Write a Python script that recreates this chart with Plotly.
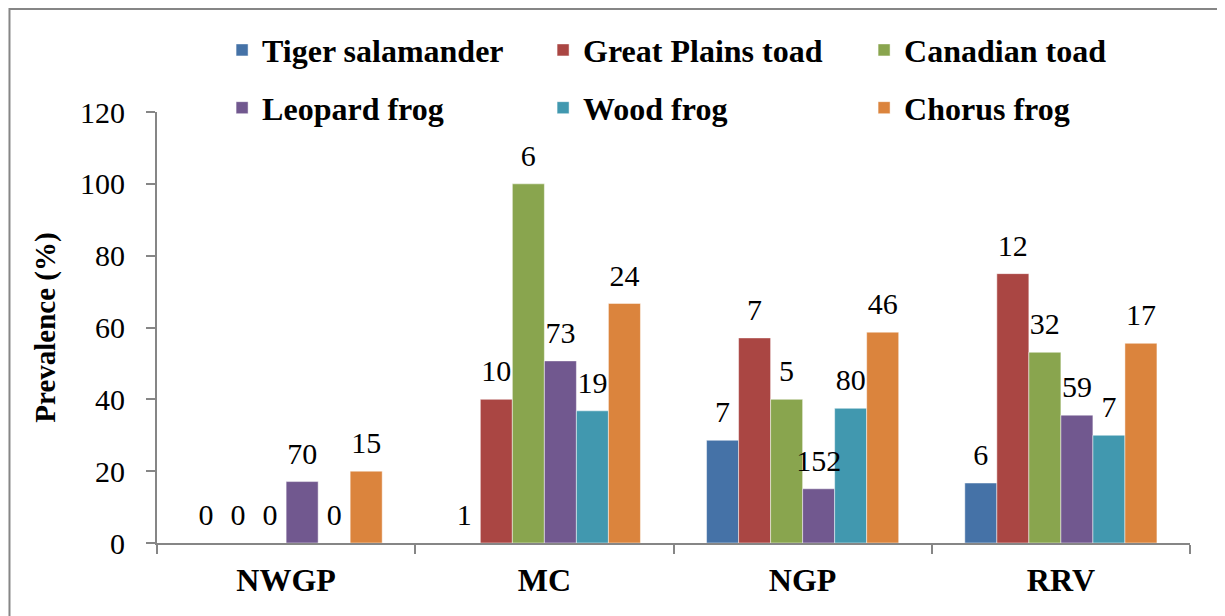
import plotly.graph_objects as go

regions = ["NWGP", "MC", "NGP", "RRV"]
species = ["Tiger salamander", "Great Plains toad", "Canadian toad",
           "Leopard frog", "Wood frog", "Chorus frog"]
colors = ["#4572A7", "#AA4643", "#89A54E", "#71588F", "#4198AF", "#DB843D"]

# prevalence (%) per species, by region
tiger_salamander = [0, 0, 28.6, 16.7]
great_plains_toad = [0, 40.0, 57.1, 75.0]
canadian_toad = [0, 100.0, 40.0, 53.1]
leopard_frog = [17.1, 50.7, 15.1, 35.6]
wood_frog = [0, 36.8, 37.5, 30.0]
chorus_frog = [20.0, 66.7, 58.7, 55.6]

# sample sizes shown above bars
n_tiger = [0, 1, 7, 6]
n_gp_toad = [0, 10, 7, 12]
n_can_toad = [0, 6, 5, 32]
n_leopard = [70, 73, 152, 59]
n_wood = [0, 19, 80, 7]
n_chorus = [15, 24, 46, 17]

values = [tiger_salamander, great_plains_toad, canadian_toad,
          leopard_frog, wood_frog, chorus_frog]
counts = [n_tiger, n_gp_toad, n_can_toad, n_leopard, n_wood, n_chorus]

FONT = "Liberation Serif, Times New Roman, serif"
GREY = "#868686"

fig = go.Figure()
for i, (name, vals, col) in enumerate(zip(species, values, colors)):
    fig.add_trace(go.Bar(
        x=regions, y=vals, name=name, marker_color=col,
        marker_line=dict(color="rgba(255,255,255,0.6)", width=0.8),
        offsetgroup=str(i),
        legend="legend" if i < 3 else "legend2",
    ))
# sample-size labels
for i, (vals, ns) in enumerate(zip(values, counts)):
    fig.add_trace(go.Scatter(
        x=regions, y=vals, text=[str(n) for n in ns],
        mode="markers+text", textposition="top center",
        marker=dict(size=15, opacity=0),
        textfont=dict(family=FONT, size=30, color="black"),
        offsetgroup=str(i), showlegend=False, hoverinfo="skip",
        cliponaxis=False,
    ))

# page body adds an 8px offset, so the figure is 8px smaller
fig.update_layout(
    width=1217, height=608,
    margin=dict(l=149, r=35, t=104, b=73, autoexpand=False),
    paper_bgcolor="white", plot_bgcolor="white",
    barmode="group", scattermode="group",
    bargap=0.256, bargroupgap=0,
    font=dict(family=FONT, color="black"),
    legend=dict(orientation="h", x=0.063, xanchor="left", y=1.1436, yanchor="middle",
                font=dict(family=FONT, size=32, weight="bold"),
                entrywidth=276, entrywidthmode="pixels"),
    legend2=dict(orientation="h", x=0.063, xanchor="left", y=1.0096, yanchor="middle",
                 font=dict(family=FONT, size=32, weight="bold"),
                 entrywidth=276, entrywidthmode="pixels"),
    showlegend=True,
)
fig.update_yaxes(
    range=[0, 120], dtick=20, showgrid=False, zeroline=False,
    showline=True, linecolor=GREY, linewidth=2,
    ticks="outside", ticklen=9, tickcolor=GREY, tickwidth=2,
    ticklabelstandoff=15,
    tickfont=dict(family=FONT, size=30, color="black"),
    title=dict(text="Prevalence (%)", standoff=16,
               font=dict(family=FONT, size=29, weight="bold")),
)
fig.update_xaxes(
    showgrid=False, showline=True, linecolor=GREY, linewidth=2,
    ticks="outside", tickson="boundaries", ticklen=9, tickcolor=GREY, tickwidth=2,
    ticklabelstandoff=8,
    tickfont=dict(family=FONT, size=32, weight="bold", color="black"),
)
# chart border
fig.add_shape(type="rect", xref="paper", yref="paper",
              x0=-0.1428, x1=1.0300, y0=-0.19, y1=1.2390,
              line=dict(color=GREY, width=2), fillcolor="rgba(0,0,0,0)", layer="below")

fig.write_html("out.html")
